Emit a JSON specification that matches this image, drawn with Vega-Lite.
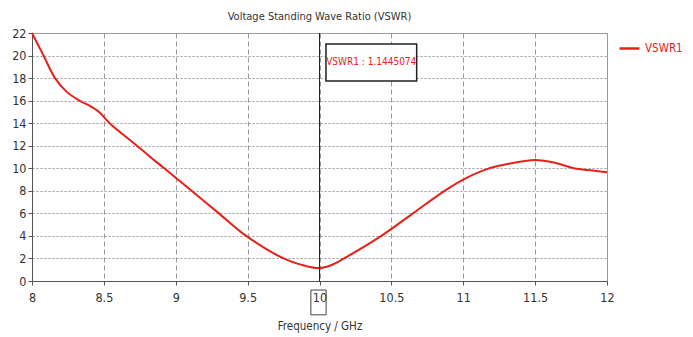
{
  "$schema": "https://vega.github.io/schema/vega-lite/v6.json",
  "width": 575,
  "height": 248,
  "autosize": "none",
  "padding": {"left": 32, "top": 33, "right": 86, "bottom": 56},
  "background": "white",
  "title": {
    "text": "Voltage Standing Wave Ratio (VSWR)",
    "anchor": "middle",
    "offset": 5,
    "fontSize": 11,
    "fontWeight": "normal",
    "font": "DejaVu Sans Condensed",
    "color": "#333333"
  },
  "config": {
    "font": "DejaVu Sans Condensed",
    "view": {"stroke": "#999999", "strokeWidth": 1},
    "axis": {
      "domainColor": "#555555",
      "tickColor": "#555555",
      "gridColor": "#999999",
      "gridOpacity": 1,
      "labelColor": "#333333",
      "labelFontSize": 12.5,
      "titleColor": "#333333",
      "titleFontWeight": "normal",
      "titleFontSize": 11.5,
      "tickSize": 4,
      "labelOverlap": false
    }
  },
  "layer": [
    {
      "data": {
        "values": [
          {"freq": 8.0, "vswr": 22.0, "series": "VSWR1"},
          {"freq": 8.04, "vswr": 21.0, "series": "VSWR1"},
          {"freq": 8.08, "vswr": 20.0, "series": "VSWR1"},
          {"freq": 8.16, "vswr": 18.0, "series": "VSWR1"},
          {"freq": 8.24, "vswr": 16.8, "series": "VSWR1"},
          {"freq": 8.33, "vswr": 16.0, "series": "VSWR1"},
          {"freq": 8.4, "vswr": 15.55, "series": "VSWR1"},
          {"freq": 8.47, "vswr": 14.95, "series": "VSWR1"},
          {"freq": 8.54, "vswr": 14.0, "series": "VSWR1"},
          {"freq": 8.73, "vswr": 12.0, "series": "VSWR1"},
          {"freq": 8.82, "vswr": 11.03, "series": "VSWR1"},
          {"freq": 8.92, "vswr": 10.0, "series": "VSWR1"},
          {"freq": 9.11, "vswr": 8.0, "series": "VSWR1"},
          {"freq": 9.3, "vswr": 6.0, "series": "VSWR1"},
          {"freq": 9.49, "vswr": 4.0, "series": "VSWR1"},
          {"freq": 9.75, "vswr": 2.0, "series": "VSWR1"},
          {"freq": 9.9, "vswr": 1.35, "series": "VSWR1"},
          {"freq": 10.0, "vswr": 1.1445, "series": "VSWR1"},
          {"freq": 10.08, "vswr": 1.4, "series": "VSWR1"},
          {"freq": 10.17, "vswr": 2.0, "series": "VSWR1"},
          {"freq": 10.43, "vswr": 4.0, "series": "VSWR1"},
          {"freq": 10.65, "vswr": 6.0, "series": "VSWR1"},
          {"freq": 10.87, "vswr": 8.0, "series": "VSWR1"},
          {"freq": 11.0, "vswr": 9.0, "series": "VSWR1"},
          {"freq": 11.16, "vswr": 9.9, "series": "VSWR1"},
          {"freq": 11.3, "vswr": 10.35, "series": "VSWR1"},
          {"freq": 11.5, "vswr": 10.74, "series": "VSWR1"},
          {"freq": 11.65, "vswr": 10.45, "series": "VSWR1"},
          {"freq": 11.77, "vswr": 10.0, "series": "VSWR1"},
          {"freq": 11.9, "vswr": 9.8, "series": "VSWR1"},
          {"freq": 12.0, "vswr": 9.64, "series": "VSWR1"}
        ]
      },
      "mark": {"type": "line", "interpolate": "catmull-rom", "strokeWidth": 2},
      "encoding": {
        "x": {
          "field": "freq",
          "type": "quantitative",
          "scale": {"domain": [8, 12], "nice": false, "zero": false},
          "axis": {
            "values": [8, 8.5, 9, 9.5, 10, 10.5, 11, 11.5, 12],
            "tickCount": 20,
            "format": "~g",
            "title": "Frequency / GHz",
            "grid": true,
            "gridDash": [5, 3],
            "labelPadding": 6,
            "titlePadding": 17,
            "labelFlush": false
          }
        },
        "y": {
          "field": "vswr",
          "type": "quantitative",
          "scale": {"domain": [0, 22], "nice": false},
          "axis": {
            "values": [0, 2, 4, 6, 8, 10, 12, 14, 16, 18, 20, 22],
            "tickCount": 20,
            "title": null,
            "grid": true,
            "gridDash": [2, 2],
            "labelPadding": 2,
            "labelFlush": false
          }
        },
        "color": {
          "field": "series",
          "type": "nominal",
          "scale": {"domain": ["VSWR1"], "range": ["#e8201a"]},
          "legend": {
            "title": null,
            "orient": "none",
            "legendX": 586,
            "legendY": 4,
            "symbolType": "stroke",
            "symbolSize": 400,
            "symbolStrokeWidth": 2.5,
            "labelColor": "#e8201a",
            "labelFontSize": 11.5
          }
        }
      }
    },
    {
      "data": {"values": [{}]},
      "mark": {"type": "rule", "color": "#222222", "strokeWidth": 1},
      "encoding": {"x": {"datum": 10}}
    },
    {
      "data": {"values": [{}]},
      "mark": {"type": "rect", "fill": "white", "stroke": "#222222", "strokeWidth": 1.5},
      "encoding": {
        "x": {"datum": 10.045},
        "x2": {"datum": 10.676},
        "y": {"datum": 21.03},
        "y2": {"datum": 17.75}
      }
    },
    {
      "data": {"values": [{}]},
      "mark": {"type": "text", "color": "#e8201a", "fontSize": 10, "align": "center", "baseline": "middle"},
      "encoding": {
        "x": {"datum": 10.36},
        "y": {"datum": 19.4},
        "text": {"value": "VSWR1 : 1.1445074"}
      }
    },
    {
      "data": {"values": [{}]},
      "mark": {"type": "rect", "fill": null, "stroke": "#444444", "strokeWidth": 1, "clip": false},
      "encoding": {
        "x": {"datum": 9.94},
        "x2": {"datum": 10.046},
        "y": {"datum": -0.8},
        "y2": {"datum": -3.0}
      }
    }
  ]
}
